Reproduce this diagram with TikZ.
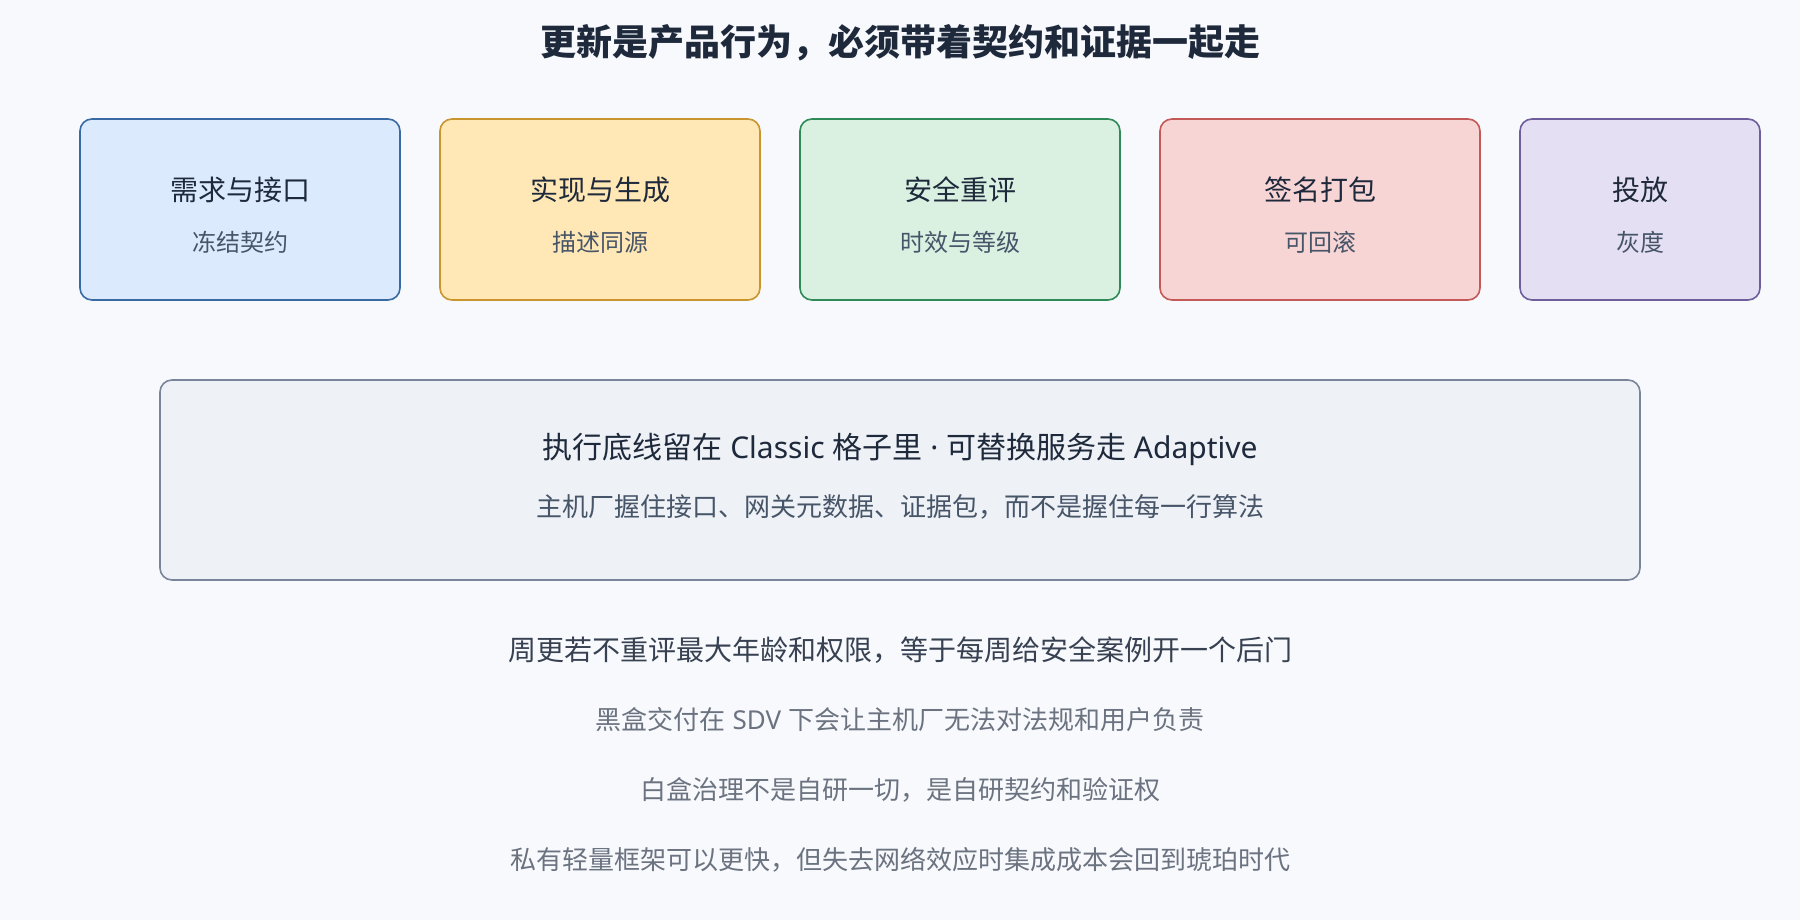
\documentclass[tikz,border=0pt]{standalone}
\usepackage{fontspec}
\setmainfont{Noto Sans CJK SC}
\newfontfamily\westfont{Noto Sans}
\definecolor{pagebg}{HTML}{F7F9FC}
\definecolor{ink}{HTML}{1E293B}
\definecolor{slate}{HTML}{475569}
\definecolor{deep}{HTML}{374151}
\definecolor{mute}{HTML}{6B7280}
\definecolor{blueF}{HTML}{DCEAFE}
\definecolor{blueD}{HTML}{3A6AA3}
\definecolor{amberF}{HTML}{FFE8B5}
\definecolor{amberD}{HTML}{C9952E}
\definecolor{greenF}{HTML}{DAF1E2}
\definecolor{greenD}{HTML}{2E8A57}
\definecolor{redF}{HTML}{F8D5D5}
\definecolor{redD}{HTML}{C45A57}
\definecolor{violetF}{HTML}{E5DFF3}
\definecolor{violetD}{HTML}{6E5E9C}
\definecolor{coreF}{HTML}{EEF1F6}
\definecolor{coreD}{HTML}{7B8599}
\begin{document}
\begin{tikzpicture}[x=0.75pt,y=-0.75pt,
  stage/.style={draw, line width=1.2pt, rounded corners=9pt, inner sep=0pt, minimum height=135.75pt},
  head/.style={text=ink, font=\fontsize{21}{25}\selectfont},
  note/.style={text=slate, font=\fontsize{18}{22}\selectfont},
  claim/.style={text=mute, font=\fontsize{19.5}{23}\selectfont}]
  \fill[pagebg] (0,0) rectangle (1800,920);
  \useasboundingbox (0,0) rectangle (1800,920);
  \node[text=ink, font=\fontsize{27}{32}\selectfont\bfseries] (title) at (900,43) {更新是产品行为，必须带着契约和证据一起走};
  % five stages of the update
  \foreach \name/\cx/\w/\fc/\dc/\headtext/\notetext in {
      req/240/240/blueF/blueD/需求与接口/冻结契约,
      impl/600/240/amberF/amberD/实现与生成/描述同源,
      safety/960/240/greenF/greenD/安全重评/时效与等级,
      sign/1320/240/redF/redD/签名打包/可回滚,
      rollout/1640/180/violetF/violetD/投放/灰度}
  {
    \node[stage, fill=\fc, draw=\dc, minimum width=\w pt] (\name) at (\cx,209.5) {};
    \node[head] (\name-head) at (\cx,190) {\headtext};
    \node[note] (\name-note) at (\cx,242) {\notetext};
  }
  % baseline box
  \node[stage, fill=coreF, draw=coreD, minimum width=1110pt, minimum height=150pt] (core) at (900,480) {};
  \node[head, font=\fontsize{22.5}{27}\selectfont] (core-head) at (900,449) {执行底线留在{\westfont\ Classic }格子里{\westfont\ · }可替换服务走{\westfont\ Adaptive}};
  \node[note, text=slate, font=\fontsize{19.5}{23}\selectfont] (core-note) at (900,507) {主机厂握住接口、网关元数据、证据包，而不是握住每一行算法};
  % closing claims
  \node[claim, text=deep, font=\fontsize{21}{25}\selectfont] (weekly) at (900,650) {周更若不重评最大年龄和权限，等于每周给安全案例开一个后门};
  \node[claim] (blackbox) at (900,720) {黑盒交付在{\westfont\ SDV }下会让主机厂无法对法规和用户负责};
  \node[claim] (whitebox) at (900,790) {白盒治理不是自研一切，是自研契约和验证权};
  \node[claim] (private) at (900,860) {私有轻量框架可以更快，但失去网络效应时集成成本会回到琥珀时代};
\end{tikzpicture}
\end{document}
